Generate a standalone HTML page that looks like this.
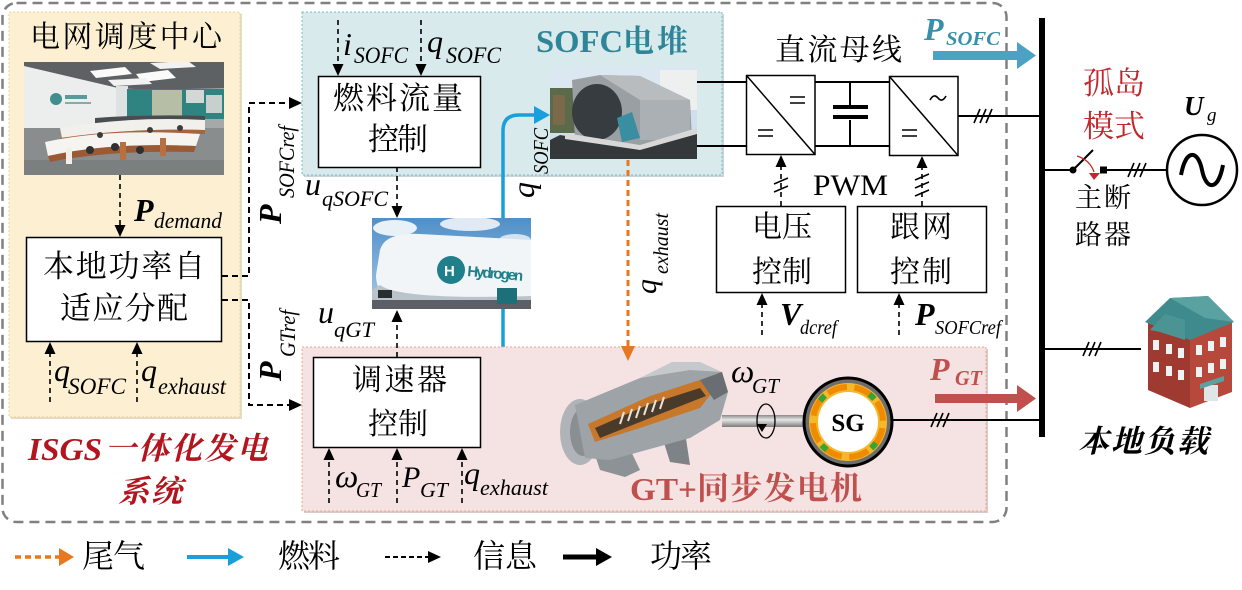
<!DOCTYPE html>
<html><head><meta charset="utf-8">
<style>
html,body{margin:0;padding:0;background:#fff;}
svg{display:block;}
.cn{font-family:"Liberation Serif","Noto Serif CJK SC",serif;}
.it{font-family:"Liberation Serif",serif;font-style:italic;}
</style></head><body>
<svg width="1242" height="590" viewBox="0 0 1242 590" xmlns="http://www.w3.org/2000/svg">
<defs>
<clipPath id="c1"><rect x="24" y="62" width="200" height="113"/></clipPath>
<clipPath id="c2"><rect x="550" y="66" width="147" height="93"/></clipPath>
<clipPath id="c3"><rect x="372" y="218" width="159" height="91"/></clipPath>
<linearGradient id="shaft" x1="0" y1="0" x2="0" y2="1"><stop offset="0" stop-color="#8a8a8a"/><stop offset="0.4" stop-color="#e6e6e6"/><stop offset="1" stop-color="#7a7a7a"/></linearGradient>
<linearGradient id="sky" x1="0" y1="0" x2="0" y2="1"><stop offset="0" stop-color="#4f8fc8"/><stop offset="1" stop-color="#a9cbe6"/></linearGradient>
</defs>
<rect width="1242" height="590" fill="#fff"/>

<!-- outer dashed border -->
<rect x="2.5" y="3" width="1004" height="519" rx="14" fill="none" stroke="#808080" stroke-width="2.5" stroke-dasharray="10 6"/>

<!-- yellow panel -->
<rect x="11" y="14" width="231" height="405" fill="#e6dcc6"/>
<rect x="9" y="12" width="231" height="405" fill="#fdf0d2" stroke="#ecd19a" stroke-width="1" stroke-dasharray="2 2"/>
<text x="30" y="47" font-size="30" textLength="192" class="cn">电网调度中心</text>

<!-- control room photo -->
<g clip-path="url(#c1)">
<rect x="24" y="62" width="200" height="113" fill="#a6a9aa"/>
<polygon points="24,62 224,62 224,88 150,90 90,86 24,72" fill="#5e6163"/>
<polygon points="90,71 125,67 132,74 96,78" fill="#fafafa"/>
<polygon points="136,74 168,70 176,78 142,82" fill="#fafafa"/>
<polygon points="150,63 188,61 196,67 160,69" fill="#f2f2f2"/>
<polygon points="108,80 146,78 152,84 114,86" fill="#f2f2f2"/>
<polygon points="24,66 118,88 118,130 24,150" fill="#eceeee"/>
<circle cx="56" cy="99" r="6" fill="#3f8f8f"/>
<rect x="65" y="95" width="22" height="4" fill="#5a9a9a"/>
<rect x="65" y="102" width="26" height="2" fill="#8aaaaa"/>
<rect x="116" y="86" width="12" height="34" fill="#dfe2e2"/>
<rect x="127" y="89" width="97" height="30" fill="#2f8482"/>
<rect x="152" y="90" width="30" height="27" fill="#b7bea6"/>
<rect x="186" y="90" width="18" height="13" fill="#d2d8d4"/>
<rect x="206" y="95" width="16" height="18" fill="#c8d0cc"/>
<rect x="24" y="128" width="200" height="47" fill="#8a8d8e"/>
<rect x="24" y="160" width="200" height="15" fill="#7c7f80"/>
<path d="M95,118 Q150,114 205,116 L205,124 Q150,122 95,126 Z" fill="#4a4d50"/>
<path d="M60,128 Q130,116 205,120 L205,130 Q130,128 62,138 Z" fill="#f2f0ec"/>
<path d="M60,138 Q130,128 205,130 L205,134 Q130,132 62,142 Z" fill="#a8643c"/>
<path d="M45,142 Q110,128 200,134 L196,146 Q110,142 48,156 Z" fill="#f6f4f0"/>
<path d="M48,156 Q110,142 196,146 L194,152 Q110,150 50,162 Z" fill="#9b5a34"/>
<rect x="66" y="148" width="6" height="16" fill="#f2efe8"/>
<rect x="120" y="142" width="6" height="18" fill="#b87040"/>
<rect x="160" y="138" width="6" height="18" fill="#b87040"/>
<circle cx="90" cy="150" r="4" fill="#2e3032"/>
<circle cx="115" cy="147" r="4" fill="#2e3032"/>
<circle cx="140" cy="150" r="4" fill="#2e3032"/>
<circle cx="100" cy="135" r="3" fill="#3a3c3e"/>
<circle cx="150" cy="130" r="3" fill="#3a3c3e"/>
<circle cx="180" cy="128" r="3" fill="#3a3c3e"/>
</g>

<!-- P_demand arrow -->
<line x1="120" y1="175" x2="120" y2="226" stroke="#000" stroke-width="1.6" stroke-dasharray="5 4"/>
<polygon points="114.5,225 120,237 125.5,225" fill="#000"/>
<text x="134" y="221" font-size="32" font-weight="bold" class="it">P</text>
<text x="154" y="228" font-size="22" class="it" textLength="68" lengthAdjust="spacingAndGlyphs">demand</text>

<!-- local power box -->
<rect x="26.5" y="237.5" width="195" height="104" fill="#fff" stroke="#000" stroke-width="1.5"/>
<text x="43" y="277" font-size="31" textLength="162" class="cn">本地功率自</text>
<text x="60" y="319" font-size="31" textLength="128" class="cn">适应分配</text>

<!-- bottom arrows into box -->
<line x1="50" y1="402" x2="50" y2="352" stroke="#000" stroke-width="1.6" stroke-dasharray="5 4"/>
<polygon points="44.5,354 50,342 55.5,354" fill="#000"/>
<line x1="137" y1="402" x2="137" y2="352" stroke="#000" stroke-width="1.6" stroke-dasharray="5 4"/>
<polygon points="131.5,354 137,342 142.5,354" fill="#000"/>
<text x="54" y="381" font-size="32" class="it">q</text>
<text x="68" y="394" font-size="23" class="it" textLength="58" lengthAdjust="spacingAndGlyphs">SOFC</text>
<text x="141" y="381" font-size="32" class="it">q</text>
<text x="158" y="394" font-size="23" class="it" textLength="68" lengthAdjust="spacingAndGlyphs">exhaust</text>

<!-- ISGS label -->
<text x="28" y="460" font-size="32" font-weight="bold" fill="#b3141e" class="it" textLength="74" lengthAdjust="spacingAndGlyphs">ISGS</text>
<text x="105" y="459" font-size="31" font-weight="bold" fill="#b3141e" class="cn" font-style="italic" textLength="163">一体化发电</text>
<text x="118" y="502" font-size="31" font-weight="bold" fill="#b3141e" class="cn" font-style="italic" textLength="64">系统</text>

<!-- ref connectors -->
<path d="M222,276 H249 V103 H291" fill="none" stroke="#000" stroke-width="2" stroke-dasharray="6 4"/>
<polygon points="289,97 302,103 289,109" fill="#000"/>
<path d="M222,300 H249 V405 H291" fill="none" stroke="#000" stroke-width="2" stroke-dasharray="6 4"/>
<polygon points="289,399 302,405 289,411" fill="#000"/>
<text transform="translate(281,224) rotate(-90)" font-size="32" font-weight="bold" class="it">P</text>
<text transform="translate(294,198) rotate(-90)" font-size="22" class="it" textLength="72" lengthAdjust="spacingAndGlyphs">SOFCref</text>
<text transform="translate(281,381) rotate(-90)" font-size="32" font-weight="bold" class="it">P</text>
<text transform="translate(295,357) rotate(-90)" font-size="22" class="it" textLength="47" lengthAdjust="spacingAndGlyphs">GTref</text>

<!-- SOFC panel -->
<rect x="304" y="14" width="420" height="163" fill="#c9d6d8"/>
<rect x="302" y="12" width="420" height="163" fill="#d9eaed" stroke="#7fb8cb" stroke-width="1" stroke-dasharray="2 2"/>

<line x1="338" y1="20" x2="338" y2="64" stroke="#000" stroke-width="1.6" stroke-dasharray="5 4"/>
<polygon points="332.5,64 338,76 343.5,64" fill="#000"/>
<line x1="421" y1="20" x2="421" y2="64" stroke="#000" stroke-width="1.6" stroke-dasharray="5 4"/>
<polygon points="415.5,64 421,76 426.5,64" fill="#000"/>
<text x="343" y="55" font-size="32" class="it">i</text>
<text x="354" y="63" font-size="23" class="it" textLength="54" lengthAdjust="spacingAndGlyphs">SOFC</text>
<text x="427" y="52" font-size="32" class="it">q</text>
<text x="446" y="63" font-size="23" class="it" textLength="55" lengthAdjust="spacingAndGlyphs">SOFC</text>

<rect x="318.5" y="76.5" width="162" height="91" fill="#fff" stroke="#000" stroke-width="1.5"/>
<text x="333" y="109" font-size="31" textLength="130" class="cn">燃料流量</text>
<text x="368" y="150" font-size="31" textLength="60" class="cn">控制</text>

<text x="536" y="52" font-size="32" font-weight="bold" fill="#2f8598" font-family="Liberation Serif, serif" textLength="87" lengthAdjust="spacingAndGlyphs">SOFC</text>
<text x="623" y="52" font-size="31" font-weight="bold" fill="#2f8598" class="cn" textLength="65">电堆</text>

<!-- SOFC photo -->
<g clip-path="url(#c2)">
<rect x="550" y="66" width="147" height="93" fill="#cfe0ec"/>
<rect x="550" y="66" width="147" height="30" fill="#dbe8f2"/>
<rect x="660" y="70" width="37" height="40" fill="#eef0f0"/>
<rect x="550" y="88" width="25" height="45" fill="#5c6a4c"/>
<rect x="553" y="95" width="12" height="30" fill="#7a6a4a"/>
<polygon points="572,80 600,75 640,76 690,100 692,140 640,148 575,140" fill="#9a9fa3"/>
<polygon points="600,75 640,76 690,100 640,100" fill="#b8bcbf"/>
<ellipse cx="597" cy="112" rx="25" ry="28" fill="#373c40"/>
<polygon points="617,118 632,112 640,138 622,142" fill="#3a8ea2"/>
<rect x="640" y="100" width="50" height="40" fill="#aab0b3"/>
<polygon points="560,135 640,148 697,130 697,159 550,159 550,140" fill="#35383b"/>
<polygon points="565,133 640,145 697,128 697,134 640,150 565,139" fill="#d8d8d8"/>
</g>

<!-- u_qSOFC -->
<text x="305" y="195" font-size="32" class="it">u</text>
<text x="322" y="206" font-size="22" class="it" textLength="66" lengthAdjust="spacingAndGlyphs">qSOFC</text>
<line x1="397" y1="167" x2="397" y2="207" stroke="#000" stroke-width="1.6" stroke-dasharray="5 4"/>
<polygon points="391.5,206 397,218 402.5,206" fill="#000"/>

<!-- hydrogen photo -->
<g clip-path="url(#c3)">
<rect x="372" y="218" width="159" height="91" fill="url(#sky)"/>
<ellipse cx="395" cy="228" rx="22" ry="8" fill="#e8f0f8"/>
<ellipse cx="470" cy="224" rx="30" ry="7" fill="#dfeaf4"/>
<ellipse cx="515" cy="240" rx="16" ry="6" fill="#d4e3f0"/>
<path d="M380,250 Q385,232 420,234 L531,240 L531,300 L400,302 Q376,298 376,275 Z" fill="#f2f5f7"/>
<path d="M380,285 Q400,300 531,296 L531,309 L372,309 L372,290 Z" fill="#b9c3c9"/>
<rect x="372" y="300" width="159" height="9" fill="#5c6066"/>
<circle cx="451" cy="270" r="14" fill="#1f7f8a"/>
<text x="444" y="276" font-size="15" font-weight="bold" fill="#fff" font-family="Liberation Sans, sans-serif">H</text>
<text x="467" y="276" font-size="15" font-weight="bold" fill="#1f7f8a" font-family="Liberation Sans, sans-serif" textLength="56" transform="rotate(5 467 276)">Hydrogen</text>
<rect x="497" y="288" width="20" height="16" fill="#1d6f78"/>
<rect x="378" y="290" width="14" height="8" fill="#2a2e30"/>
</g>

<!-- blue fuel arrows -->
<path d="M503,218 V131 Q503,115 519,115 H537" fill="none" stroke="#1a9fdc" stroke-width="3.5"/>
<polygon points="534,106 550,115 534,124" fill="#1a9fdc"/>
<path d="M503,309 V404 Q503,420 519,420 H537" fill="none" stroke="#1a9fdc" stroke-width="3.5"/>
<polygon points="534,411 550,420 534,429" fill="#1a9fdc"/>
<text transform="translate(534,198) rotate(-90)" font-size="32" class="it">q</text>
<text transform="translate(548,174) rotate(-90)" font-size="21" class="it" textLength="46" lengthAdjust="spacingAndGlyphs">SOFC</text>
<text transform="translate(534,401) rotate(-90)" font-size="32" class="it">q</text>
<text transform="translate(548,378) rotate(-90)" font-size="21" class="it" textLength="20" lengthAdjust="spacingAndGlyphs">GT</text>

<!-- pink panel -->
<rect x="304" y="349" width="684" height="164" fill="#dccaca"/>
<rect x="302" y="347" width="684" height="164" fill="#f5e2e2" stroke="#e9a88a" stroke-width="1" stroke-dasharray="2 2"/>

<!-- u_qGT -->
<text x="318" y="323" font-size="32" class="it">u</text>
<text x="334" y="337" font-size="22" class="it" textLength="40" lengthAdjust="spacingAndGlyphs">qGT</text>
<line x1="397" y1="357" x2="397" y2="320" stroke="#000" stroke-width="1.6" stroke-dasharray="5 4"/>
<polygon points="391.5,322 397,310 402.5,322" fill="#000"/>

<!-- governor box -->
<rect x="313.5" y="357.5" width="167" height="90" fill="#fff" stroke="#000" stroke-width="1.5"/>
<text x="352" y="390" font-size="30" textLength="95" class="cn">调速器</text>
<text x="368" y="434" font-size="30" textLength="60" class="cn">控制</text>

<line x1="329" y1="503" x2="329" y2="458" stroke="#000" stroke-width="1.6" stroke-dasharray="5 4"/>
<polygon points="323.5,460 329,448 334.5,460" fill="#000"/>
<line x1="397" y1="503" x2="397" y2="458" stroke="#000" stroke-width="1.6" stroke-dasharray="5 4"/>
<polygon points="391.5,460 397,448 402.5,460" fill="#000"/>
<line x1="462" y1="503" x2="462" y2="458" stroke="#000" stroke-width="1.6" stroke-dasharray="5 4"/>
<polygon points="456.5,460 462,448 467.5,460" fill="#000"/>
<text x="335" y="487" font-size="33" class="it">ω</text>
<text x="356" y="497" font-size="21" class="it" textLength="25" lengthAdjust="spacingAndGlyphs">GT</text>
<text x="402" y="487" font-size="30" class="it">P</text>
<text x="420" y="497" font-size="21" class="it" textLength="28" lengthAdjust="spacingAndGlyphs">GT</text>
<text x="464" y="484" font-size="32" class="it">q</text>
<text x="480" y="495" font-size="22" class="it" textLength="68" lengthAdjust="spacingAndGlyphs">exhaust</text>

<!-- exhaust orange -->
<line x1="628" y1="160" x2="628" y2="347" stroke="#e8771f" stroke-width="3" stroke-dasharray="6 4"/>
<polygon points="621,346 628,361 635,346" fill="#e8771f"/>
<text transform="translate(656,294) rotate(-90)" font-size="30" class="it">q</text>
<text transform="translate(668,274) rotate(-90)" font-size="21" class="it" textLength="61" lengthAdjust="spacingAndGlyphs">exhaust</text>

<!-- gas turbine -->
<g>
<polygon points="590,440 600,470 625,477 640,470 628,445" fill="#8d9296"/>
<polygon points="660,430 670,462 690,465 685,432" fill="#7e8387"/>
<ellipse cx="580" cy="432" rx="20" ry="33" fill="#b0b4b8"/>
<ellipse cx="583" cy="432" rx="13" ry="24" fill="#8a8f93"/>
<polygon points="575,405 640,378 690,366 722,372 728,392 720,420 690,438 610,460 585,458" fill="#9ea3a7"/>
<polygon points="640,378 672,362 700,362 722,372 690,370" fill="#c6c9cc"/>
<polygon points="588,424 650,396 700,380 714,390 700,408 640,428 595,442" fill="#c8782a"/>
<polygon points="595,428 650,404 700,388 706,396 650,418 600,438" fill="#4a3a2a"/>
<g stroke="#e8e2d8" stroke-width="2">
<line x1="620" y1="424" x2="624" y2="412"/><line x1="628" y1="421" x2="632" y2="409"/><line x1="636" y1="418" x2="640" y2="406"/><line x1="644" y1="415" x2="648" y2="403"/><line x1="652" y1="412" x2="656" y2="400"/><line x1="660" y1="409" x2="664" y2="397"/>
</g>
<polygon points="700,380 722,372 728,392 714,400" fill="#6a6e72"/>
</g>

<!-- shaft -->
<rect x="722" y="415" width="86" height="12" fill="url(#shaft)"/>
<ellipse cx="766" cy="421" rx="9" ry="17" fill="none" stroke="#000" stroke-width="1.3"/>
<polygon points="757,424 762,432 767,424" fill="#000"/>
<text x="731" y="382" font-size="33" class="it">ω</text>
<text x="752" y="393" font-size="21" class="it" textLength="27" lengthAdjust="spacingAndGlyphs">GT</text>

<!-- SG -->
<circle cx="848" cy="422" r="44" fill="#6e6e6e" stroke="#000" stroke-width="3"/>
<circle cx="848" cy="422" r="39" fill="#f5b82a"/>
<circle cx="848" cy="422" r="35" fill="none" stroke="#f08a00" stroke-width="6" stroke-dasharray="20 7.5" transform="rotate(-35 848 422)"/>
<circle cx="848" cy="422" r="35" fill="none" stroke="#3aa335" stroke-width="6" stroke-dasharray="7 48" transform="rotate(37 848 422)"/>
<circle cx="848" cy="422" r="30" fill="#fff"/>
<text x="848" y="431" font-size="25" font-weight="bold" text-anchor="middle" font-family="Liberation Serif, serif">SG</text>

<line x1="892" y1="420" x2="1040" y2="420" stroke="#000" stroke-width="2"/>
<path d="M931,427 L937,413 M937,427 L943,413 M943,427 L949,413" stroke="#000" stroke-width="1.6"/>

<text x="930" y="380" font-size="32" font-weight="bold" fill="#c0504d" class="it">P</text>
<text x="955" y="385" font-size="21" font-weight="bold" fill="#c0504d" class="it" textLength="27" lengthAdjust="spacingAndGlyphs">GT</text>
<rect x="935" y="394" width="85" height="9" fill="#c0504d"/>
<polygon points="1017,385 1036,398.5 1017,412" fill="#c0504d"/>

<text x="630" y="500" font-size="32" font-weight="bold" fill="#c0504d" font-family="Liberation Serif, serif" textLength="67" lengthAdjust="spacingAndGlyphs">GT+</text>
<text x="697" y="499" font-size="32" font-weight="bold" fill="#c0504d" class="cn" textLength="165">同步发电机</text>

<!-- DC bus section -->
<text x="775" y="60" font-size="30" textLength="127" class="cn">直流母线</text>
<g stroke="#000" stroke-width="2" fill="none">
<path d="M697,82 H746 M697,146 H746 M815,82 H889 M815,146 H889"/>
<path d="M850,82 V107 M850,120 V146"/>
<path d="M958,116 H1040"/>
</g>
<rect x="833" y="105" width="35" height="4" fill="#000"/>
<rect x="833" y="115" width="35" height="4" fill="#000"/>
<rect x="746.5" y="75.5" width="68.5" height="79" fill="#fff" stroke="#000" stroke-width="1.5"/>
<line x1="746.5" y1="75.5" x2="815" y2="154.5" stroke="#000" stroke-width="1.5"/>
<path d="M790,97 H805 M790,103 H805 M758,130 H773 M758,136 H773" stroke="#000" stroke-width="1.6"/>
<rect x="889.5" y="76.5" width="68.5" height="79" fill="#fff" stroke="#000" stroke-width="1.5"/>
<line x1="889.5" y1="76.5" x2="958" y2="155.5" stroke="#000" stroke-width="1.5"/>
<path d="M930,100 Q934,93 938,98 Q942,103 946,96" fill="none" stroke="#000" stroke-width="1.6"/>
<path d="M902,130 H917 M902,136 H917" stroke="#000" stroke-width="1.6"/>
<path d="M974,123 L980,109 M980,123 L986,109 M986,123 L992,109" stroke="#000" stroke-width="1.6"/>

<text x="813" y="195" font-size="30" font-family="Liberation Serif, serif" textLength="75" lengthAdjust="spacingAndGlyphs">PWM</text>

<!-- control boxes -->
<rect x="716.5" y="206.5" width="129" height="86" fill="#fff" stroke="#000" stroke-width="1.5"/>
<text x="752" y="237" font-size="30" textLength="60" class="cn">电压</text>
<text x="752" y="282" font-size="30" textLength="60" class="cn">控制</text>
<rect x="857.5" y="206.5" width="129" height="86" fill="#fff" stroke="#000" stroke-width="1.5"/>
<text x="890" y="237" font-size="30" textLength="62" class="cn">跟网</text>
<text x="890" y="282" font-size="30" textLength="62" class="cn">控制</text>

<line x1="781" y1="206" x2="781" y2="166" stroke="#000" stroke-width="1.6" stroke-dasharray="5 4"/>
<polygon points="775.5,167 781,155 786.5,167" fill="#000"/>
<path d="M774,184 L788,178 M774,192 L788,186" stroke="#000" stroke-width="1.5"/>
<line x1="922" y1="206" x2="922" y2="167" stroke="#000" stroke-width="1.6" stroke-dasharray="5 4"/>
<polygon points="916.5,168 922,156 927.5,168" fill="#000"/>
<path d="M915,180 L929,174 M915,188 L929,182 M915,196 L929,190" stroke="#000" stroke-width="1.5"/>

<line x1="762" y1="335" x2="762" y2="303" stroke="#000" stroke-width="1.6" stroke-dasharray="5 4"/>
<polygon points="756.5,305 762,293 767.5,305" fill="#000"/>
<line x1="899" y1="335" x2="899" y2="303" stroke="#000" stroke-width="1.6" stroke-dasharray="5 4"/>
<polygon points="893.5,305 899,293 904.5,305" fill="#000"/>
<text x="780" y="325" font-size="32" font-weight="bold" class="it">V</text>
<text x="800" y="334" font-size="20" class="it" textLength="37" lengthAdjust="spacingAndGlyphs">dcref</text>
<text x="915" y="325" font-size="32" font-weight="bold" class="it">P</text>
<text x="935" y="334" font-size="20" class="it" textLength="66" lengthAdjust="spacingAndGlyphs">SOFCref</text>

<!-- P_SOFC top -->
<text x="924" y="40" font-size="32" font-weight="bold" fill="#3a8fa8" class="it">P</text>
<text x="946" y="45" font-size="20" font-weight="bold" fill="#3a8fa8" class="it" textLength="54" lengthAdjust="spacingAndGlyphs">SOFC</text>
<rect x="933" y="51" width="87" height="9" fill="#4aa3c2"/>
<polygon points="1017,42 1036,55.5 1017,69" fill="#4aa3c2"/>

<!-- bus -->
<rect x="1039" y="18" width="6" height="419" fill="#000"/>

<!-- breaker -->
<g stroke="#000" stroke-width="2" fill="none">
<path d="M1045,170 H1073"/>
<path d="M1073,170 L1093,150"/>
<path d="M1107,170 H1168"/>
</g>
<circle cx="1073" cy="170" r="3.5" fill="#000"/>
<rect x="1100" y="166.5" width="7" height="7" fill="#000"/>
<path d="M1128,177 L1134,163 M1134,177 L1140,163 M1140,177 L1146,163" stroke="#000" stroke-width="1.6"/>
<path d="M1077,156 Q1090,160 1094,172" fill="none" stroke="#c0282d" stroke-width="1.2"/>
<polygon points="1089,173 1100,173 1094,180" fill="#c0282d"/>
<circle cx="1202" cy="170" r="35" fill="#fff" stroke="#000" stroke-width="2.5"/>
<path d="M1181,175 C1186,148 1198,150 1202,170 C1206,190 1218,192 1223,165" fill="none" stroke="#000" stroke-width="4"/>
<text x="1184" y="115" font-size="27" font-weight="bold" class="it">U</text>
<text x="1207" y="121" font-size="19" class="it">g</text>

<text x="1083" y="94" font-size="31" fill="#c0282d" textLength="62" class="cn">孤岛</text>
<text x="1083" y="137" font-size="31" fill="#c0282d" textLength="62" class="cn">模式</text>
<text x="1075" y="207" font-size="27" textLength="56" class="cn">主断</text>
<text x="1075" y="244" font-size="27" textLength="56" class="cn">路器</text>

<!-- load -->
<line x1="1045" y1="349" x2="1141" y2="349" stroke="#000" stroke-width="2"/>
<path d="M1083,356 L1089,342 M1089,356 L1095,342 M1095,356 L1101,342" stroke="#000" stroke-width="1.6"/>
<g>
<polygon points="1148,322 1190,338 1190,408 1148,390" fill="#9e3a30"/>
<polygon points="1190,338 1232,322 1232,392 1190,408" fill="#b7483c"/>
<polygon points="1145,322 1170,298 1208,296 1234,322 1190,340" fill="#3f8a8c"/>
<polygon points="1170,298 1208,296 1234,322 1205,318" fill="#5aa2a2"/>
<polygon points="1150,330 1165,314 1185,320 1185,340 1160,332" fill="#4c9494"/>
<g fill="#eef2f2">
<rect x="1153" y="340" width="6" height="10"/><rect x="1166" y="344" width="6" height="10"/><rect x="1178" y="348" width="6" height="10"/>
<rect x="1153" y="362" width="6" height="10"/><rect x="1166" y="366" width="6" height="10"/><rect x="1178" y="370" width="6" height="10"/>
<rect x="1196" y="345" width="6" height="10"/><rect x="1208" y="341" width="6" height="10"/><rect x="1220" y="337" width="6" height="10"/>
<rect x="1196" y="367" width="6" height="10"/><rect x="1208" y="363" width="6" height="10"/><rect x="1220" y="359" width="6" height="10"/>
<rect x="1204" y="385" width="14" height="16" fill="#dfe6e6"/>
</g>
<polygon points="1200,384 1224,376 1224,381 1200,389" fill="#5aa2a2"/>
</g>
<text x="1078" y="452" font-size="31" font-weight="bold" font-style="italic" textLength="130" class="cn">本地负载</text>

<!-- legend -->
<line x1="15" y1="557" x2="60" y2="557" stroke="#e8771f" stroke-width="3.5" stroke-dasharray="6 4"/>
<polygon points="59,548 74,557 59,566" fill="#e8771f"/>
<text x="82" y="567" font-size="32" textLength="63" class="cn">尾气</text>
<line x1="187" y1="557" x2="230" y2="557" stroke="#1a9fdc" stroke-width="4"/>
<polygon points="228,548 244,557 228,566" fill="#1a9fdc"/>
<text x="278" y="567" font-size="32" textLength="62" class="cn">燃料</text>
<line x1="385" y1="557" x2="429" y2="557" stroke="#000" stroke-width="2" stroke-dasharray="5 3"/>
<polygon points="428,551 441,557 428,563" fill="#000"/>
<text x="473" y="567" font-size="32" textLength="64" class="cn">信息</text>
<line x1="563" y1="557" x2="598" y2="557" stroke="#000" stroke-width="5"/>
<polygon points="596,548 612,557 596,566" fill="#000"/>
<text x="650" y="567" font-size="32" textLength="62" class="cn">功率</text>
</svg>
</body></html>
